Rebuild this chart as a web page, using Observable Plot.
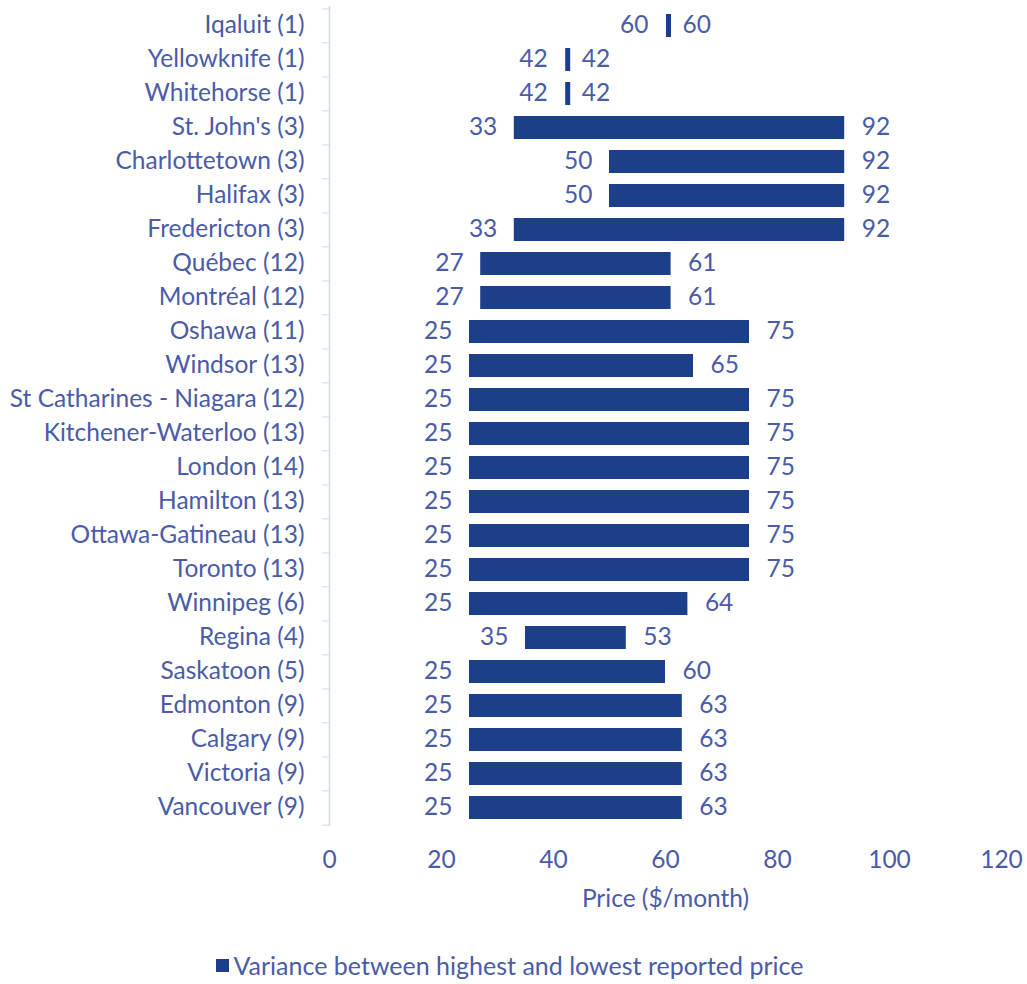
<!DOCTYPE html>
<html>
<head>
<meta charset="utf-8">
<script src="https://cdn.jsdelivr.net/npm/d3@7"></script>
<script src="https://cdn.jsdelivr.net/npm/@observablehq/plot@0.6"></script>
<style>
  body { margin: 0; background: #fff; font-family: Lato, "Open Sans", sans-serif; }
  #chart svg { display: block; }
  .legend { display: flex; justify-content: center; align-items: center; margin-top: 28px; margin-left: -8px;
            font-family: Lato, "Open Sans", sans-serif; font-size: 25px; color: #4A5BA8; }
  .legend .sw { width: 13px; height: 13px; background: #1C3F8A; margin-right: 5px; }
</style>
</head>
<body>
<div id="chart"></div>
<div class="legend"><span class="sw"></span><span>Variance between highest and lowest reported price</span></div>
<script>
const cities = ["Iqaluit (1)", "Yellowknife (1)", "Whitehorse (1)", "St. John's (3)", "Charlottetown (3)", "Halifax (3)", "Fredericton (3)", "Québec (12)", "Montréal (12)", "Oshawa (11)", "Windsor (13)", "St Catharines - Niagara (12)", "Kitchener-Waterloo (13)", "London (14)", "Hamilton (13)", "Ottawa-Gatineau (13)", "Toronto (13)", "Winnipeg (6)", "Regina (4)", "Saskatoon (5)", "Edmonton (9)", "Calgary (9)", "Victoria (9)", "Vancouver (9)"];
const lowPrice  = [60, 42, 42, 33, 50, 50, 33, 27, 27, 25, 25, 25, 25, 25, 25, 25, 25, 25, 35, 25, 25, 25, 25, 25];
const highPrice = [60, 42, 42, 92, 92, 92, 92, 61, 61, 75, 65, 75, 75, 75, 75, 75, 75, 64, 53, 60, 63, 63, 63, 63];
const xTicks = [0, 20, 40, 60, 80, 100, 120];

const data = cities.map((c, i) => ({city: c, low: lowPrice[i], high: highPrice[i]}));

const BAR = "#1C3F8A";
const TXT = "#4A5BA8";
const AXIS = "#D3D8E8";
const FS = 24.5;
const height = 922, marginTop = 6, marginBottom = 96;
const step = (height - marginTop - marginBottom) / cities.length;

const chart = Plot.plot({
  width: 1027,
  height,
  marginLeft: 329,
  marginRight: 26,
  marginTop,
  marginBottom,
  style: {fontFamily: "Lato, 'Open Sans', sans-serif", fontSize: FS + "px", color: TXT, background: "white"},
  x: {domain: [0, 120]},
  y: {domain: cities, paddingInner: 0.33, paddingOuter: 0.165},
  marks: [
    Plot.axisY({tickSize: 0, tickPadding: 25, fill: TXT, fontSize: FS, label: null, dy: -1}),
    Plot.axisY({tickSize: 7, text: null, stroke: AXIS, dy: -step / 2, label: null}),
    Plot.axisY([cities[cities.length - 1]], {tickSize: 7, text: null, stroke: AXIS, dy: step / 2, label: null}),
    Plot.axisX(xTicks, {tickSize: 0, tickPadding: 24, fill: TXT, fontSize: FS,
      label: "Price ($/month)", labelAnchor: "center", labelOffset: 80, labelArrow: "none"}),
    Plot.ruleX([0], {stroke: AXIS, strokeWidth: 1.5}),
    Plot.barX(data, {x1: "low", x2: "high", y: "city", fill: BAR}),
    Plot.tickX(data, {filter: d => d.low === d.high, x: "low", y: "city", stroke: BAR, strokeWidth: 5, dx: 3}),
    Plot.text(data, {x: "low", y: "city", text: d => String(d.low), textAnchor: "end", dx: -17, dy: -1, fill: TXT, fontSize: FS}),
    Plot.text(data, {x: "high", y: "city", text: d => String(d.high), textAnchor: "start", dx: 17, dy: -1, fill: TXT, fontSize: FS})
  ]
});
document.getElementById("chart").appendChild(chart);
</script>
</body>
</html>
